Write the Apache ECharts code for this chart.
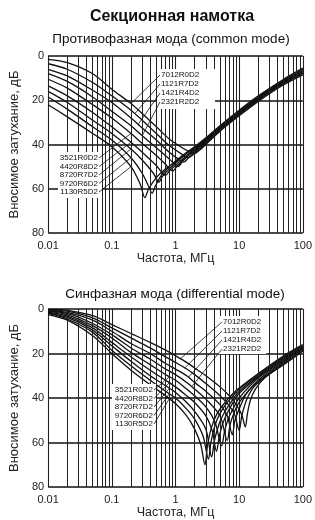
<!DOCTYPE html>
<html>
<head>
<meta charset="utf-8">
<script src="https://cdn.jsdelivr.net/npm/echarts@6/dist/echarts.min.js"></script>
<style>
html, body { margin: 0; padding: 0; background: #fff; }
#chart { width: 315px; height: 520px; }
</style>
</head>
<body>
<div id="chart"></div>
<script>
// axis ticks
var xTickLabels = ['0.01', '0.1', '1', '10', '100'];
var minorFreqs = [0.02, 0.03, 0.04, 0.05, 0.06, 0.07, 0.08, 0.09,
  0.2, 0.3, 0.4, 0.5, 0.6, 0.7, 0.8, 0.9,
  2, 3, 4, 5, 6, 7, 8, 9,
  20, 30, 40, 50, 60, 70, 80, 90];

// common mode curves [MHz, dB]
var cm1 = [[0.01,22],[0.02,27.5],[0.05,35],[0.1,41],[0.2,50],[0.28,58],[0.33,64],[0.38,60],[0.5,55],[0.7,51],[1,48],[1.5,44],[2,41.5],[3,37.5],[5,32],[10,25],[20,18.5],[50,11],[100,6]];
var cm2 = [[0.01,18.5],[0.02,24],[0.05,32],[0.1,38],[0.2,46],[0.3,53],[0.38,59],[0.43,62],[0.48,59],[0.6,54],[0.8,50],[1,47.5],[1.5,43.5],[2,41],[3,37],[5,31.5],[10,24.5],[20,18],[50,10.5],[100,5.5]];
var cm3 = [[0.01,16],[0.02,21],[0.05,29],[0.1,35],[0.2,42],[0.3,47],[0.45,53],[0.55,57],[0.62,54.5],[0.8,51],[1,48.5],[1.5,44],[2,41.5],[3,37.5],[5,32],[10,25],[20,18.5],[50,11],[100,6.5]];
var cm4 = [[0.01,13.5],[0.02,18],[0.05,25.5],[0.1,32],[0.2,39],[0.3,43.5],[0.5,49.5],[0.7,54],[0.8,52],[1,49.5],[1.5,45],[2,42],[3,38],[5,32.5],[10,25.5],[20,19],[50,11.5],[100,7]];
var cm5 = [[0.01,10.5],[0.02,14.5],[0.05,22],[0.1,28],[0.2,35],[0.3,39.5],[0.5,45],[0.7,49],[0.9,52],[1.05,50],[1.5,45.5],[2,42.5],[3,38],[5,32.5],[10,25.5],[20,19],[50,11.5],[100,7]];
var cm6 = [[0.01,8],[0.02,11.5],[0.05,18.5],[0.1,25],[0.2,31.5],[0.3,36],[0.5,41.5],[0.8,46.5],[1.1,50],[1.3,47.5],[1.6,45],[2,43],[3,38.5],[5,33],[10,26],[20,19.5],[50,12],[100,7.5]];
var cm7 = [[0.01,6],[0.02,9],[0.05,15.5],[0.1,21],[0.2,28],[0.3,32.5],[0.5,38],[0.8,43.5],[1.1,46.5],[1.35,48],[1.6,46],[2,43.5],[3,39],[5,33],[10,26],[20,19.5],[50,12],[100,7.5]];
var cm8 = [[0.01,3.5],[0.02,6],[0.05,12],[0.1,18],[0.2,24.5],[0.3,29],[0.5,35],[0.8,40.5],[1.2,44],[1.6,46],[1.9,44.5],[2.3,42.5],[3,39.5],[5,33.5],[10,26.5],[20,20],[50,12.5],[100,8]];
var cm9 = [[0.01,1.5],[0.02,3],[0.05,8],[0.1,15],[0.2,21.5],[0.3,26],[0.5,32],[0.8,37.5],[1.2,41],[1.6,43],[2,44],[2.4,42.5],[3,40],[5,34],[10,27],[20,20.5],[50,13],[100,8.5]];

// differential mode curves [MHz, dB]
var dm1 = [[0.01,2.5],[0.02,5],[0.05,12],[0.1,20],[0.2,27.5],[0.4,34],[0.7,39],[1,42.5],[1.5,48],[2,54],[2.5,61],[2.9,70],[3.2,61],[3.7,53],[4.5,47],[6,42],[8,38],[10,35.5],[20,29],[50,21],[100,16]];
var dm2 = [[0.01,2],[0.02,4.5],[0.05,10.5],[0.1,18.5],[0.2,25.5],[0.4,32],[0.7,37],[1,40],[1.5,45],[2,49.5],[2.7,57],[3.3,67.5],[3.6,60],[4.2,52],[5,47],[6.5,42],[8,39],[10,36],[20,29.5],[50,21.5],[100,16.5]];
var dm3 = [[0.01,1.7],[0.02,3.8],[0.05,9.5],[0.1,16.5],[0.2,23.5],[0.4,30],[0.7,34.5],[1,37.5],[1.5,42],[2,46],[3,54],[3.7,66.5],[4.1,59],[4.8,52],[5.5,48],[7,43],[10,37],[20,30],[50,22],[100,17]];
var dm4 = [[0.01,1.4],[0.02,3.2],[0.05,8.5],[0.1,15],[0.2,21.5],[0.4,27.5],[0.7,32],[1,35],[1.5,39],[2,42],[3,48],[3.8,55],[4.4,64],[4.9,57],[5.6,51],[7,45],[10,38],[20,30.5],[50,22.5],[100,17]];
var dm5 = [[0.01,1.1],[0.02,2.6],[0.05,7.5],[0.1,13],[0.2,19.5],[0.4,25],[0.7,29.5],[1,32],[1.5,36],[2,39],[3,44],[4.2,51],[5.3,61.5],[5.9,55],[6.8,49],[8,45],[10,40],[20,31],[50,23],[100,17.5]];
var dm6 = [[0.01,0.8],[0.02,2],[0.05,6.5],[0.1,11.5],[0.2,17.5],[0.4,22.5],[0.7,27],[1,29.5],[1.5,33],[2,36],[3,40.5],[5,48],[6.5,59],[7.2,52],[8.5,46],[10,42],[20,32],[50,23.5],[100,18]];
var dm7 = [[0.01,0.6],[0.02,1.5],[0.05,5],[0.1,10],[0.2,15.5],[0.4,20],[0.7,24.5],[1,27],[1.5,30],[2,33],[3,37],[5,43],[6.5,48],[7.8,56.5],[8.6,50],[10,45],[13,38],[20,32.5],[50,24],[100,18]];
var dm8 = [[0.01,0.4],[0.02,1],[0.05,4],[0.1,8.5],[0.2,13],[0.4,17.5],[0.7,21.5],[1,24],[1.5,27],[2,29.5],[3,33.5],[5,39],[7,43.5],[8.5,47.5],[10,54.5],[11,48],[13,41],[16,36],[20,33],[50,24.5],[100,18.5]];
var dm9 = [[0.01,0.2],[0.02,0.6],[0.05,3],[0.1,7],[0.2,11],[0.4,15],[0.7,18.5],[1,21],[1.5,24],[2,26.5],[3,30],[5,35],[7,39],[9,43],[11,47.5],[12.5,53],[13.5,47],[15,41],[18,36],[25,31],[50,25],[100,19]];

var commonCurves = [cm1, cm2, cm3, cm4, cm5, cm6, cm7, cm8, cm9];
var diffCurves = [dm1, dm2, dm3, dm4, dm5, dm6, dm7, dm8, dm9];

// part labels and the curve / frequency each leader points to
var upperLabels = ['7012R0D2', '1121R7D2', '1421R4D2', '2321R2D2'];
var lowerLabels = ['3521R0D2', '4420R8D2', '8720R7D2', '9720R6D2', '1130R5D2'];
var cmUpperTarget = [[8, 0.2], [7, 0.23], [6, 0.26], [5, 0.3]];
var cmLowerTarget = [[4, 0.2], [3, 0.2], [2, 0.2], [1, 0.2], [0, 0.2]];
var dmUpperTarget = [[8, 1.2], [7, 1.4], [6, 1.6], [5, 1.8]];
var dmLowerTarget = [[4, 0.8], [3, 0.8], [2, 0.8], [1, 0.8], [0, 0.8]];

var FONT = '"Liberation Sans", Arial, Helvetica, sans-serif';
var chart = echarts.init(document.getElementById('chart'));

function xAxisOf(gi) {
  return {
    type: 'log', logBase: 10, min: 0.01, max: 100, gridIndex: gi,
    name: 'Частота, МГц', nameLocation: 'middle', nameGap: 19,
    nameTextStyle: { fontSize: 12.5, color: '#222', fontFamily: FONT },
    axisLine: { show: false }, axisTick: { show: false },
    splitLine: { show: true, lineStyle: { color: '#222', width: 1.1 } },
    axisLabel: {
      fontSize: 11, color: '#222', fontFamily: FONT, margin: 7,
      formatter: function (v) { return xTickLabels[Math.round(Math.log10(v)) + 2]; }
    }
  };
}
function yAxisOf(gi) {
  return {
    type: 'value', inverse: true, min: 0, max: 80, interval: 20, gridIndex: gi,
    name: 'Вносимое затухание, дБ', nameLocation: 'middle', nameGap: 25,
    nameTextStyle: { fontSize: 13, color: '#222', fontFamily: FONT },
    axisLine: { show: false }, axisTick: { show: false },
    splitLine: { show: true, lineStyle: { color: '#111', width: 1.5 } },
    axisLabel: { fontSize: 11, color: '#222', fontFamily: FONT, margin: 4 }
  };
}

var series = [];
[commonCurves, diffCurves].forEach(function (set, gi) {
  series.push({
    type: 'line', xAxisIndex: gi, yAxisIndex: gi, data: [], silent: true, z: 1,
    markLine: {
      symbol: ['none', 'none'], silent: true, animation: false,
      label: { show: false },
      lineStyle: { color: '#222', width: 1, type: 'solid' },
      data: minorFreqs.map(function (f) { return { xAxis: f }; })
    }
  });
  set.forEach(function (pts) {
    series.push({
      type: 'line', xAxisIndex: gi, yAxisIndex: gi, data: pts,
      symbol: 'none', smooth: 0.3, silent: true, z: 3,
      lineStyle: { color: '#111', width: 1.3 }
    });
  });
});

chart.setOption({
  animation: false,
  backgroundColor: '#fff',
  grid: [
    { left: 45.5, right: 6.5, top: 56, height: 177 },
    { left: 45.5, right: 3.5, top: 309, height: 181 }
  ],
  xAxis: [xAxisOf(0), xAxisOf(1)],
  yAxis: [yAxisOf(0), yAxisOf(1)],
  series: series
});

// dB on a curve at frequency f (linear in log f between read points)
function dbAt(pts, f) {
  for (var i = 0; i < pts.length - 1; i++) {
    if (f >= pts[i][0] && f <= pts[i + 1][0]) {
      var t = (Math.log(f) - Math.log(pts[i][0])) / (Math.log(pts[i + 1][0]) - Math.log(pts[i][0]));
      return pts[i][1] + t * (pts[i + 1][1] - pts[i][1]);
    }
  }
  return pts[pts.length - 1][1];
}

var graphics = [];
function text(x, y, s, size, weight, align) {
  graphics.push({
    type: 'text', x: x, y: y, z: 110,
    style: { text: s, fill: '#111', font: (weight || 'normal') + ' ' + size + 'px ' + FONT,
      textAlign: align || 'center', textVerticalAlign: 'middle' }
  });
}
function labelBox(gi, curves, names, targets, box, side) {
  graphics.push({
    type: 'rect', z: 100, shape: { x: box.x, y: box.y, width: box.w, height: box.h },
    style: { fill: '#fff' }
  });
  names.forEach(function (n, i) {
    var y = box.ty + i * box.dy;
    text(box.tx, y, n, 8, 'normal', side === 'left' ? 'left' : 'right');
    var tg = targets[i];
    var p = chart.convertToPixel({ xAxisIndex: gi, yAxisIndex: gi }, [tg[1], dbAt(curves[tg[0]], tg[1])]);
    var sx = side === 'left' ? box.tx - 1 : box.tx + 1;
    graphics.push({
      type: 'line', z: 105, shape: { x1: sx, y1: y, x2: p[0], y2: p[1] },
      style: { stroke: '#111', lineWidth: 0.8 }
    });
  });
}

labelBox(0, commonCurves, upperLabels, cmUpperTarget,
  { x: 157, y: 69, w: 58, h: 40, tx: 161, ty: 75, dy: 9 }, 'left');
labelBox(0, commonCurves, lowerLabels, cmLowerTarget,
  { x: 58, y: 152, w: 44, h: 46, tx: 98, ty: 158, dy: 8.5 }, 'right');
labelBox(1, diffCurves, upperLabels, dmUpperTarget,
  { x: 218, y: 316, w: 48, h: 38, tx: 223, ty: 322, dy: 9 }, 'left');
labelBox(1, diffCurves, lowerLabels, dmLowerTarget,
  { x: 112, y: 384, w: 44, h: 46, tx: 153, ty: 390, dy: 8.5 }, 'right');

text(172, 17, 'Секционная намотка', 16, 'bold');
text(171, 39.5, 'Противофазная мода (common mode)', 13.5);
text(175, 294, 'Синфазная мода (differential mode)', 13.5);

chart.setOption({ graphic: graphics });
</script>
</body>
</html>
